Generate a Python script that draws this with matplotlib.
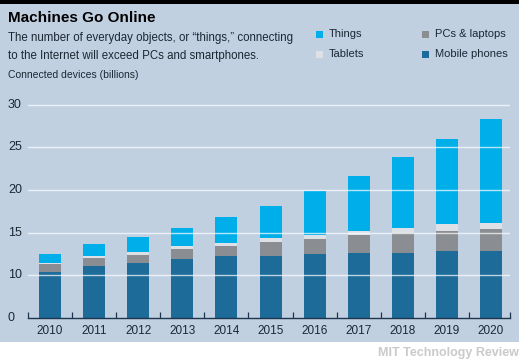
import matplotlib
matplotlib.use("Agg")
import matplotlib.pyplot as plt
import matplotlib.transforms as mtransforms
from matplotlib.patches import Rectangle
import numpy as np

years = ["2010", "2011", "2012", "2013", "2014", "2015",
         "2016", "2017", "2018", "2019", "2020"]
# stacked segments (billions, on the chart's own scale)
mobile = [10.4, 11.1, 11.4, 11.85, 12.2, 12.2, 12.5, 12.6, 12.6, 12.85, 12.85]
pcs = [0.86, 0.9, 1.0, 1.25, 1.25, 1.65, 1.75, 2.1, 2.3, 2.35, 2.55]
tablets = [0.19, 0.3, 0.3, 0.3, 0.35, 0.45, 0.5, 0.5, 0.6, 0.75, 0.7]
things = [1.05, 1.3, 1.75, 2.1, 3.0, 3.8, 5.1, 6.45, 8.35, 10.05, 12.2]
ytick_pos = [5, 10, 15, 20, 25, 30]
ytick_lab = ["0", "10", "15", "20", "25", "30"]

BG = "#c1d0e1"
C_MOBILE = "#1d6b98"
C_PCS = "#8a8d92"
C_TAB = "#dde1e6"
C_THINGS = "#00aeea"
TXT = "#1b2733"
AXC = "#1e3550"

plt.rcParams["font.family"] = ["Liberation Sans", "DejaVu Sans"]

fig = plt.figure(figsize=(5.19, 3.63), dpi=100, facecolor="white")
fig.patches.append(Rectangle((0, 0.058), 1, 0.931, transform=fig.transFigure,
                             facecolor=BG, edgecolor="none", zorder=-2))
fig.patches.append(Rectangle((0, 0.989), 1, 0.011, transform=fig.transFigure,
                             facecolor="black", edgecolor="none", zorder=-2))

ax = fig.add_axes([28 / 519, 0.1248, 482 / 519, 0.610])
ax.set_facecolor("none")
ax.set_zorder(2)

x = np.arange(len(years))
w = 0.5
b1 = np.array(mobile)
b2 = b1 + np.array(pcs)
b3 = b2 + np.array(tablets)
ax.bar(x, mobile, width=w, color=C_MOBILE, zorder=2)
ax.bar(x, pcs, width=w, bottom=b1, color=C_PCS, zorder=2)
ax.bar(x, tablets, width=w, bottom=b2, color=C_TAB, zorder=2)
ax.bar(x, things, width=w, bottom=b3, color=C_THINGS, zorder=2)

ax.set_xlim(-0.475, 10.43)
ax.set_ylim(5, 31)
for gy in ytick_pos[1:]:
    ax.axhline(gy, color="white", lw=1.0, alpha=0.7, zorder=3)

for s in ["top", "right", "left"]:
    ax.spines[s].set_visible(False)
ax.spines["bottom"].set_color(AXC)
ax.spines["bottom"].set_linewidth(1.0)
ax.spines["bottom"].set_zorder(4)

ax.set_yticks([])
ylab_tr = mtransforms.blended_transform_factory(fig.transFigure, ax.transData)
for pos, lab in zip(ytick_pos, ytick_lab):
    ax.text(8 / 519, pos, lab, transform=ylab_tr, ha="left", va="center",
            fontsize=9, color=TXT, clip_on=False)

ax.set_xticks(x)
ax.set_xticklabels(years)
ax.set_xticks(list(np.arange(-0.5, 10, 1.0)) + [10.42], minor=True)
ax.tick_params(axis="x", which="major", length=0, pad=5, labelsize=8.5, labelcolor=TXT)
ax.tick_params(axis="x", which="minor", length=4, direction="in", color=AXC, width=0.9)

fig.text(8 / 519, 1 - 18 / 363, "Machines Go Online", fontsize=11,
         fontweight="bold", color="black", va="center")
fig.text(8 / 519, 1 - 38 / 363,
         "The number of everyday objects, or \u201cthings,\u201d connecting",
         fontsize=8.3, color=TXT, va="center")
fig.text(8 / 519, 1 - 56 / 363,
         "to the Internet will exceed PCs and smartphones.",
         fontsize=8.3, color=TXT, va="center")
fig.text(8 / 519, 1 - 75 / 363, "Connected devices (billions)",
         fontsize=7.5, color=TXT, va="center")

legend_items = [("Things", C_THINGS, 316, 34), ("PCs & laptops", C_PCS, 422, 34),
                ("Tablets", C_TAB, 316, 54), ("Mobile phones", C_MOBILE, 422, 54)]
for name, col, lx, ly in legend_items:
    fig.patches.append(Rectangle((lx / 519, 1 - (ly + 3.5) / 363), 7 / 519, 7 / 363,
                                 transform=fig.transFigure, facecolor=col,
                                 edgecolor="none", zorder=1))
    fig.text((lx + 13) / 519, 1 - ly / 363, name, fontsize=8, color=TXT, va="center")

fig.text(1.0, 1 - 353 / 363, "MIT Technology Review", fontsize=9, color="#c9cacc",
         ha="right", va="center", fontweight="bold")

fig.savefig("out.png", dpi=100, facecolor=fig.get_facecolor())
